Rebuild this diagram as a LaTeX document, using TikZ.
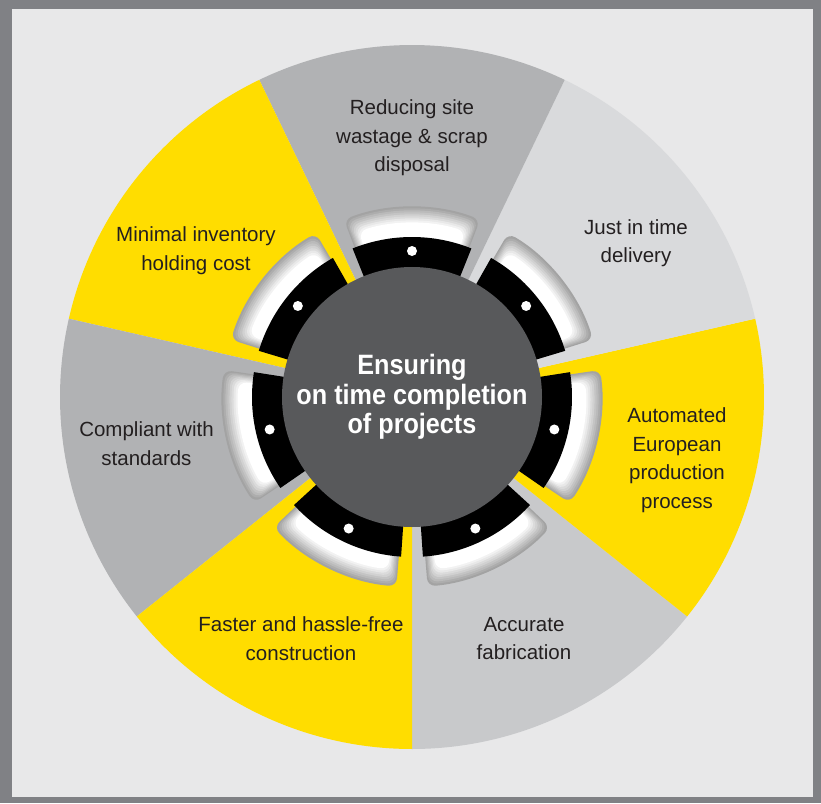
\documentclass[tikz,border=0pt]{standalone}
\usepackage{fontspec}
\setmainfont{Liberation Sans}
\newfontfamily\hubfont{Liberation Sans}[FakeStretch=0.9]
\definecolor{framegray}{HTML}{808185}
\definecolor{panelgray}{HTML}{E8E8E9}
\definecolor{sunyellow}{HTML}{FFDD00}
\definecolor{slatelight}{HTML}{D9DADC}
\definecolor{slatemid}{HTML}{C8C9CB}
\definecolor{slatedark}{HTML}{B1B2B4}
\definecolor{hubgray}{HTML}{58595B}
\definecolor{inkblack}{HTML}{231F20}

\begin{document}
\begin{tikzpicture}[x=1pt, y=1pt,
    sector text/.style={font=\fontsize{20.5}{28.5}\selectfont, text=inkblack, align=center},
    hub/.style={circle, fill=hubgray, minimum size=260pt, inner sep=0pt, text=white, align=center,
      font=\hubfont\bfseries\fontsize{28}{29.5}\selectfont}]
  \useasboundingbox (-412,-406) rectangle (409,397);
  \fill[framegray] (-412,-406) rectangle (409,397);
  \fill[panelgray] (-400,-400) rectangle (401,388);
  \foreach \col [count=\i from 0] in {slatemid, sunyellow, slatelight, slatedark, sunyellow, slatedark, sunyellow} {
    \pgfmathsetmacro\a{-90+360/7*\i}
    \pgfmathsetmacro\b{\a+360/7}
    \pgfmathsetmacro\c{\a+180/7}
    \fill[\col] (0,0) -- (\a:352) arc[start angle=\a, end angle=\b, radius=352] -- cycle;
    \foreach \k in {0,...,8} {
      \pgfmathsetmacro\h{21-0.4*\k}
      \pgfmathsetmacro\r{190-2*\k}
      \pgfmathtruncatemacro\w{64+4.5*\k}
      \fill[white!\w!black, rounded corners=8pt] (\c-\h:150) -- (\c-\h:\r)
        arc[start angle=\c-\h, end angle=\c+\h, radius=\r] -- (\c+\h:150) -- cycle;
    }
    \fill[black] (\c-21.8:120) -- (\c-21.8:160)
      arc[start angle=\c-21.8, end angle=\c+21.8, radius=160] -- (\c+21.8:120) -- cycle;
    \fill[white] (\c:146) circle (5);
  }
  \node[hub] (hub) at (0,0) {Ensuring\\on time completion\\of projects};
  \node[sector text] (wastage) at (0,259) {Reducing site\\wastage \& scrap\\disposal};
  \node[sector text] (inventory) at (-216,146.5) {Minimal inventory\\holding cost};
  \node[sector text] (delivery) at (224,154) {Just in time\\delivery};
  \node[sector text] (automation) at (265,-63) {Automated\\European\\production\\process};
  \node[sector text] (fabrication) at (112,-241.5) {Accurate\\fabrication};
  \node[sector text] (construction) at (-111,-241.5) {Faster and hassle-free\\construction};
  \node[sector text] (standards) at (-265.5,-46.5) {Compliant with\\standards};
\end{tikzpicture}
\end{document}
